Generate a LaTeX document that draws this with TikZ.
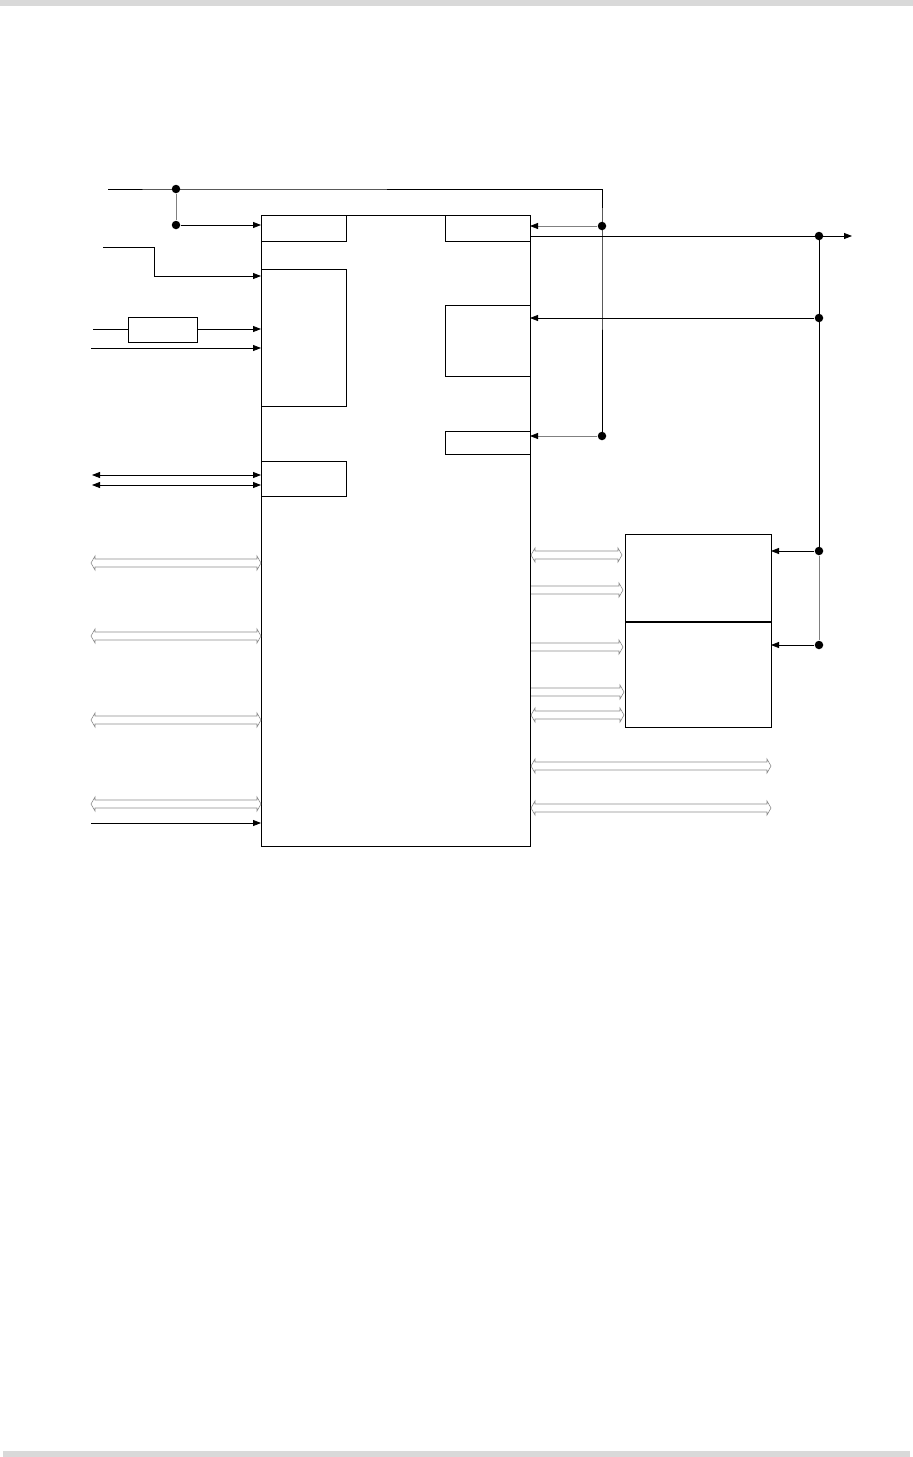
\documentclass[tikz,border=0pt]{standalone}
\usetikzlibrary{arrows.meta}
\begin{document}
\begin{tikzpicture}[x=1pt,y=-1pt,line width=0.8pt,
  box/.style={draw=black,line width=0.9pt},
  arr/.style={-{Triangle[length=8pt,width=6pt,color=black]}},
  darr/.style={{Triangle[length=8pt,width=6pt]}-{Triangle[length=8pt,width=6pt]}},
  dot/.style={circle,fill=black,inner sep=0pt,minimum size=8.5pt},
  bus/.style={draw=gray!90,line width=0.6pt,fill=white}]
\useasboundingbox (0,0) rectangle (913,1457);
\fill[gray!30] (0,0) rectangle (913,6);
\fill[gray!30] (3,1451) rectangle (910,1457);
% hollow bus arrows: \dbus{x1}{x2}{y} double, \sbus{x1}{x2}{y} single right
\newcommand\dbus[3]{\path[bus] (#1,#3) -- (#1+4,#3-7) -- (#1+4,#3-4) -- (#2-4,#3-4) -- (#2-4,#3-7) -- (#2,#3) -- (#2-4,#3+7) -- (#2-4,#3+4) -- (#1+4,#3+4) -- (#1+4,#3+7) -- cycle;}
\newcommand\sbus[3]{\path[bus] (#1,#3-4) -- (#2-4,#3-4) -- (#2-4,#3-7) -- (#2,#3) -- (#2-4,#3+7) -- (#2-4,#3+4) -- (#1,#3+4);}
% main box and sub boxes
\draw[box] (261,215) rectangle (530,846);
\draw[box] (261,215) rectangle (346,241);
\draw[box] (261,269) rectangle (346,406);
\draw[box] (261,461) rectangle (346,496);
\draw[box] (445,215) rectangle (530,241);
\draw[box] (445,305) rectangle (530,376);
\draw[box] (445,431) rectangle (530,454);
% right boxes
\draw[box] (625,534) rectangle (771,727);
\draw[line width=1.6pt] (625,622) -- (771,622);
% small box left
\draw[box] (128,317) rectangle (197,342);
\coordinate (filtW) at (128,329);
\coordinate (filtE) at (197,329);
% coordinates
\coordinate (tl) at (108,189);
\node[dot] (d1) at (176,189) {};
\node[dot] (d2) at (176,225) {};
\coordinate (tr) at (602,189);
\node[dot] (d3) at (602,226) {};
\node[dot] (d4) at (602,436) {};
\coordinate (o1) at (530,236);
\node[dot] (d5) at (819,236) {};
\coordinate (o2) at (852,236);
\node[dot] (d6) at (819,318) {};
\node[dot] (d7) at (819,551) {};
\node[dot] (d8) at (819,645) {};
% top line
\draw (tl) -- (d1.center) -- (tr) -- (d3.center) -- (d4.center);
\draw[gray,line width=0.6pt] (d1) -- (d2);
\draw[arr] (d2) -- (261,225);
\draw[arr,gray] (d3) -- (530,226);
\draw[arr,gray] (d4) -- (530,436);
\draw[arr] (o1) -- (o2);
\draw (d5.center) -- (d7.center);
\draw[arr] (d6) -- (530,318);
\draw[arr] (d7) -- (771,551);
\draw[gray,line width=0.6pt] (d7) -- (d8);
\draw[arr] (d8) -- (771,645);
% left inputs
\draw[arr] (103,247) -- (154,247) -- (154,276) -- (261,276);
\draw (93,329) -- (filtW);
\draw[arr] (filtE) -- (261,329);
\draw[arr] (91,348) -- (261,348);
\draw[darr] (92,475) -- (261,475);
\draw[darr] (92,485) -- (261,485);
\dbus{91}{261}{563}
\dbus{91}{261}{636}
\dbus{91}{261}{720}
\dbus{91}{261}{804}
\draw[arr] (91,823) -- (261,823);
% right buses
\dbus{531}{622}{555}
\sbus{531}{623}{590}
\sbus{531}{623}{647}
\sbus{531}{624}{692}
\dbus{531}{624}{715}
\dbus{531}{771}{766}
\dbus{531}{771}{808}
\end{tikzpicture}
\end{document}
